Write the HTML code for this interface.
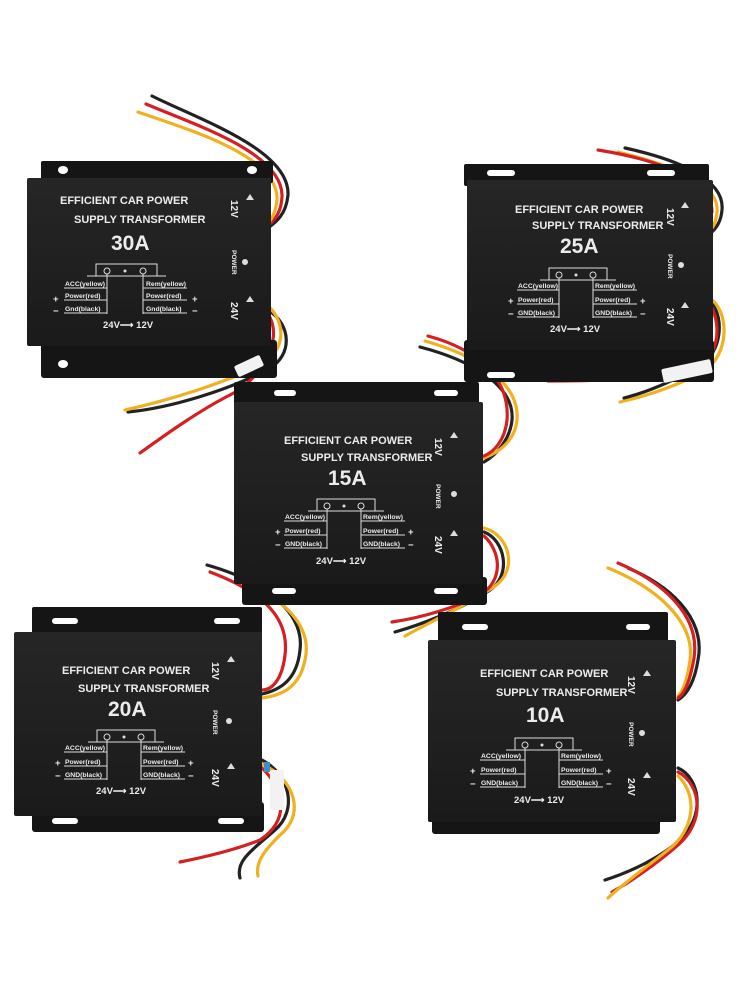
<!DOCTYPE html>
<html><head><meta charset="utf-8"><style>
html,body{margin:0;padding:0;background:#fff;}
svg{display:block;}
text{font-family:"Liberation Sans",sans-serif;fill:#ececec;}
.t1{font-size:11px;font-weight:bold;}
.big{font-size:21px;font-weight:bold;}
.sm{font-size:6.8px;font-weight:bold;}
.md{font-size:9.5px;font-weight:bold;}
.rt{font-size:10px;font-weight:bold;}
.pw{font-size:6.5px;font-weight:bold;}
.ln{stroke:#ddd;stroke-width:1;fill:none;}
.w{fill:none;stroke-width:3.2;stroke-linecap:round;}
</style></head><body>
<svg width="750" height="1000" viewBox="0 0 750 1000" xmlns="http://www.w3.org/2000/svg">
<defs>
<linearGradient id="pg" x1="0" y1="0" x2="0" y2="1"><stop offset="0" stop-color="#262627"/><stop offset="1" stop-color="#1a1a1b"/></linearGradient>
</defs>

<g>
<path class="w" stroke="#222" d="M152 96 C200 120,290 150,288 195 C286 215,276 222,268 228"/>
<path class="w" stroke="#d42020" d="M146 104 C195 125,284 153,282 197 C281 214,274 220,268 226"/>
<path class="w" stroke="#f0b020" d="M138 112 C190 130,278 156,277 199 C276 212,272 218,268 224"/>
</g>
<g>
<path class="w" stroke="#222" d="M268 310 C292 325,292 355,270 368 C230 390,170 408,128 412"/>
<path class="w" stroke="#f0b020" d="M268 306 C286 322,286 350,262 364 C225 383,170 400,125 410"/>
<path class="w" stroke="#d42020" d="M268 314 C285 340,260 380,230 395 C200 410,165 435,140 453"/>
</g>
<g>
<path class="w" stroke="#222" d="M625 148 C680 160,725 180,722 210 C721 222,716 228,712 232"/>
<path class="w" stroke="#f0b020" d="M618 152 C672 165,720 184,717 212 C716 222,713 228,710 230"/>
<path class="w" stroke="#d42020" d="M598 150 C660 160,712 180,712 212"/>
</g>
<g>
<path class="w" stroke="#f0b020" d="M712 300 C730 315,728 355,705 370 C680 385,650 395,620 402"/>
<path class="w" stroke="#222" d="M712 304 C724 318,722 352,700 366 C675 380,648 392,624 398"/>
<path class="w" stroke="#d42020" d="M712 308 C722 330,718 360,690 372 C650 380,580 381,548 381"/>
</g>
<g>
<path class="w" stroke="#222" d="M420 347 C470 360,515 385,512 420 C510 440,496 455,484 462"/>
<path class="w" stroke="#f0b020" d="M425 341 C475 355,520 382,517 420 C515 440,500 452,484 458"/>
<path class="w" stroke="#d42020" d="M428 336 C480 350,510 380,507 420 C505 440,494 452,484 456"/>
</g>
<g>
<path class="w" stroke="#222" d="M484 532 C505 540,512 575,490 590 C460 610,420 625,395 632"/>
<path class="w" stroke="#f0b020" d="M484 528 C510 535,518 570,495 586 C465 606,430 622,405 636"/>
<path class="w" stroke="#d42020" d="M484 536 C500 550,505 580,480 595 C455 608,420 618,392 622"/>
</g>
<g>
<path class="w" stroke="#222" d="M207 565 C260 580,305 610,300 650 C297 680,280 690,262 694"/>
<path class="w" stroke="#d42020" d="M210 572 C258 590,290 615,285 655 C282 680,272 690,262 690"/>
<path class="w" stroke="#f0b020" d="M240 582 C290 600,312 630,305 660 C300 685,285 695,262 698"/>
</g>
<g>
<path class="w" stroke="#222" d="M262 760 C290 775,298 810,275 830 C255 848,235 860,240 878"/>
<path class="w" stroke="#f0b020" d="M262 764 C296 780,305 815,280 835 C265 850,255 862,258 876"/>
<path class="w" stroke="#d42020" d="M262 768 C285 790,290 820,260 840 C235 850,200 858,180 862"/>
</g>
<g>
<path class="w" stroke="#222" d="M628 568 C680 590,705 625,698 660 C694 685,686 695,678 700"/>
<path class="w" stroke="#f0b020" d="M608 568 C662 590,695 625,690 660 C687 682,682 692,678 696"/>
<path class="w" stroke="#d42020" d="M618 563 C670 585,700 620,694 658 C690 682,684 694,678 698"/>
</g>
<g>
<path class="w" stroke="#222" d="M678 768 C700 778,706 815,680 840 C660 858,630 872,605 880"/>
<path class="w" stroke="#d42020" d="M678 772 C702 785,705 822,678 845 C655 865,630 882,612 892"/>
<path class="w" stroke="#f0b020" d="M678 776 C698 795,695 830,668 850 C648 866,625 882,608 898"/>
</g>

<!-- BOX 1 -->
<g transform="translate(27,178)">
<rect x="14" y="-17" width="232" height="22" rx="2" fill="#151515"/>
<ellipse cx="36" cy="-8" rx="5" ry="4" fill="#fff"/><ellipse cx="225" cy="-8" rx="5" ry="4" fill="#fff"/>
<rect x="14" y="162" width="236" height="38" rx="3" fill="#151515"/>
<ellipse cx="36" cy="186" rx="5" ry="4" fill="#fff"/><ellipse cx="224" cy="186" rx="5" ry="4" fill="#fff"/>
<rect x="0" y="0" width="244" height="168" rx="2" fill="url(#pg)"/>
<text class="t1" x="33" y="26">EFFICIENT CAR POWER</text>
<text class="t1" x="47" y="45">SUPPLY TRANSFORMER</text>
<text class="big" x="84" y="72">30A</text>
<path class="ln" d="M60 98 h9 v-12 h61 v12 h9 M60 98 h79"/>
<circle cx="80" cy="93" r="3" class="ln"/><circle cx="116" cy="93" r="3" class="ln"/><circle cx="98" cy="93" r="1.5" fill="#ddd"/>
<path class="ln" d="M80 96 v40 M116 96 v40 M37 110 h43 M37 122 h43 M37 135 h43 M116 110 h44 M116 122 h44 M116 135 h44"/>
<text class="sm" x="38" y="108">ACC(yellow)</text><text class="sm" x="38" y="120">Power(red)</text><text class="sm" x="38" y="133">Gnd(black)</text>
<text class="sm" x="119" y="108">Rem(yellow)</text><text class="sm" x="119" y="120">Power(red)</text><text class="sm" x="119" y="133">Gnd(black)</text>
<text class="md" x="26" y="124">+</text><text class="md" x="26" y="136">−</text><text class="md" x="165" y="124">+</text><text class="md" x="165" y="136">−</text>
<text class="md" x="76" y="150">24V⟶ 12V</text>
<text class="rt" transform="translate(204,22) rotate(90)">12V</text><path d="M219 22 l4 -6 l4 6z" fill="#ddd"/>
<text class="pw" transform="translate(205,72) rotate(90)">POWER</text><circle cx="218" cy="84" r="3" fill="#ddd"/>
<text class="rt" transform="translate(204,124) rotate(90)">24V</text><path d="M219 124 l4 -6 l4 6z" fill="#ddd"/>
</g>
<rect x="235" y="360" width="28" height="12" rx="2" fill="#f2f2f2" transform="rotate(-25 249 366)"/>

<!-- BOX 2 -->
<g transform="translate(467,180)">
<rect x="-3" y="-16" width="245" height="22" rx="2" fill="#151515"/>
<rect x="20" y="-10" width="28" height="6" rx="3" fill="#fff"/><rect x="180" y="-10" width="28" height="6" rx="3" fill="#fff"/>
<rect x="-3" y="160" width="250" height="42" rx="3" fill="#151515"/>
<rect x="20" y="192" width="28" height="6" rx="3" fill="#fff"/>
<rect x="0" y="0" width="246" height="170" rx="2" fill="url(#pg)"/>
<text class="t1" x="48" y="33">EFFICIENT  CAR POWER</text>
<text class="t1" x="65" y="49">SUPPLY TRANSFORMER</text>
<text class="big" x="93" y="73">25A</text>
<path class="ln" d="M73 100 h9 v-12 h58 v12 h9 M73 100 h76"/>
<circle cx="92" cy="95" r="3" class="ln"/><circle cx="126" cy="95" r="3" class="ln"/><circle cx="109" cy="95" r="1.5" fill="#ddd"/>
<path class="ln" d="M92 98 v40 M126 98 v40 M50 110 h42 M50 124 h42 M50 137 h42 M126 110 h44 M126 124 h44 M126 137 h44"/>
<text class="sm" x="51" y="108">ACC(yellow)</text><text class="sm" x="51" y="122">Power(red)</text><text class="sm" x="51" y="135">GND(black)</text>
<text class="sm" x="128" y="108">Rem(yellow)</text><text class="sm" x="128" y="122">Power(red)</text><text class="sm" x="128" y="135">GND(black)</text>
<text class="md" x="41" y="124">+</text><text class="md" x="41" y="137">−</text><text class="md" x="173" y="124">+</text><text class="md" x="173" y="137">−</text>
<text class="md" x="83" y="152">24V⟶ 12V</text>
<text class="rt" transform="translate(200,28) rotate(90)">12V</text><path d="M214 28 l4 -6 l4 6z" fill="#ddd"/>
<text class="pw" transform="translate(201,74) rotate(90)">POWER</text><circle cx="214" cy="85" r="3" fill="#ddd"/>
<text class="rt" transform="translate(200,128) rotate(90)">24V</text><path d="M214 128 l4 -6 l4 6z" fill="#ddd"/>
</g>
<rect x="662" y="364" width="50" height="14" rx="2" fill="#f2f2f2" transform="rotate(-12 687 371)"/>

<!-- BOX 3 -->
<g transform="translate(234,402)">
<rect x="0" y="-20" width="245" height="24" rx="2" fill="#151515"/>
<rect x="40" y="-12" width="22" height="6" rx="3" fill="#fff"/><rect x="200" y="-12" width="24" height="6" rx="3" fill="#fff"/>
<rect x="8" y="175" width="245" height="28" rx="3" fill="#151515"/>
<rect x="38" y="186" width="24" height="6" rx="3" fill="#fff"/><rect x="200" y="186" width="24" height="6" rx="3" fill="#fff"/>
<rect x="0" y="0" width="249" height="182" rx="2" fill="url(#pg)"/>
<text class="t1" x="50" y="42">EFFICIENT  CAR POWER</text>
<text class="t1" x="67" y="59">SUPPLY TRANSFORMER</text>
<text class="big" x="94" y="83">15A</text>
<path class="ln" d="M74 109 h9 v-12 h58 v12 h9 M74 109 h76"/>
<circle cx="93" cy="104" r="3" class="ln"/><circle cx="127" cy="104" r="3" class="ln"/><circle cx="110" cy="104" r="1.5" fill="#ddd"/>
<path class="ln" d="M93 107 v40 M127 107 v40 M50 119 h43 M50 133 h43 M50 146 h43 M127 119 h44 M127 133 h44 M127 146 h44"/>
<text class="sm" x="51" y="117">ACC(yellow)</text><text class="sm" x="51" y="131">Power(red)</text><text class="sm" x="51" y="144">GND(black)</text>
<text class="sm" x="129" y="117">Rem(yellow)</text><text class="sm" x="129" y="131">Power(red)</text><text class="sm" x="129" y="144">GND(black)</text>
<text class="md" x="41" y="133">+</text><text class="md" x="41" y="146">−</text><text class="md" x="174" y="133">+</text><text class="md" x="174" y="146">−</text>
<text class="md" x="82" y="162">24V⟶ 12V</text>
<text class="rt" transform="translate(201,36) rotate(90)">12V</text><path d="M216 36 l4 -6 l4 6z" fill="#ddd"/>
<text class="pw" transform="translate(202,82) rotate(90)">POWER</text><circle cx="220" cy="92" r="3" fill="#ddd"/>
<text class="rt" transform="translate(201,134) rotate(90)">24V</text><path d="M216 134 l4 -6 l4 6z" fill="#ddd"/>
</g>

<!-- BOX 4 -->
<g transform="translate(14,632)">
<rect x="18" y="-25" width="230" height="30" rx="2" fill="#151515"/>
<rect x="38" y="-14" width="26" height="6" rx="3" fill="#fff"/><rect x="200" y="-14" width="26" height="6" rx="3" fill="#fff"/>
<rect x="18" y="170" width="232" height="30" rx="3" fill="#151515"/>
<rect x="38" y="186" width="26" height="6" rx="3" fill="#fff"/><rect x="204" y="186" width="26" height="6" rx="3" fill="#fff"/>
<rect x="0" y="0" width="248" height="184" rx="2" fill="url(#pg)"/>
<text class="t1" x="48" y="42">EFFICIENT  CAR POWER</text>
<text class="t1" x="64" y="60">SUPPLY TRANSFORMER</text>
<text class="big" x="94" y="84">20A</text>
<path class="ln" d="M74 110 h9 v-12 h58 v12 h9 M74 110 h76"/>
<circle cx="93" cy="105" r="3" class="ln"/><circle cx="127" cy="105" r="3" class="ln"/><circle cx="110" cy="105" r="1.5" fill="#ddd"/>
<path class="ln" d="M93 108 v40 M127 108 v40 M50 120 h43 M50 134 h43 M50 147 h43 M127 120 h44 M127 134 h44 M127 147 h44"/>
<text class="sm" x="51" y="118">ACC(yellow)</text><text class="sm" x="51" y="132">Power(red)</text><text class="sm" x="51" y="145">GND(black)</text>
<text class="sm" x="129" y="118">Rem(yellow)</text><text class="sm" x="129" y="132">Power(red)</text><text class="sm" x="129" y="145">GND(black)</text>
<text class="md" x="41" y="134">+</text><text class="md" x="41" y="147">−</text><text class="md" x="174" y="134">+</text><text class="md" x="174" y="147">−</text>
<text class="md" x="82" y="162">24V⟶ 12V</text>
<text class="rt" transform="translate(198,30) rotate(90)">12V</text><path d="M213 30 l4 -6 l4 6z" fill="#ddd"/>
<text class="pw" transform="translate(199,78) rotate(90)">POWER</text><circle cx="215" cy="89" r="3" fill="#ddd"/>
<text class="rt" transform="translate(198,137) rotate(90)">24V</text><path d="M213 137 l4 -6 l4 6z" fill="#ddd"/>
</g>
<rect x="270" y="770" width="14" height="40" rx="2" fill="#f2f2f2"/>
<rect x="264" y="762" width="6" height="10" fill="#3a8fd0"/>

<!-- BOX 5 -->
<g transform="translate(428,640)">
<rect x="10" y="-28" width="230" height="32" rx="2" fill="#151515"/>
<rect x="34" y="-16" width="26" height="6" rx="3" fill="#fff"/><rect x="198" y="-16" width="24" height="6" rx="3" fill="#fff"/>
<rect x="4" y="172" width="228" height="22" rx="3" fill="#151515"/>
<rect x="0" y="0" width="248" height="182" rx="2" fill="url(#pg)"/>
<text class="t1" x="52" y="37">EFFICIENT  CAR POWER</text>
<text class="t1" x="68" y="56">SUPPLY TRANSFORMER</text>
<text class="big" x="98" y="82">10A</text>
<path class="ln" d="M78 110 h9 v-12 h58 v12 h9 M78 110 h76"/>
<circle cx="97" cy="105" r="3" class="ln"/><circle cx="131" cy="105" r="3" class="ln"/><circle cx="114" cy="105" r="1.5" fill="#ddd"/>
<path class="ln" d="M97 108 v40 M131 108 v40 M52 120 h45 M52 134 h45 M52 147 h45 M131 120 h44 M131 134 h44 M131 147 h44"/>
<text class="sm" x="53" y="118">ACC(yellow)</text><text class="sm" x="53" y="132">Power(red)</text><text class="sm" x="53" y="145">GND(black)</text>
<text class="sm" x="133" y="118">Rem(yellow)</text><text class="sm" x="133" y="132">Power(red)</text><text class="sm" x="133" y="145">GND(black)</text>
<text class="md" x="42" y="134">+</text><text class="md" x="42" y="147">−</text><text class="md" x="178" y="134">+</text><text class="md" x="178" y="147">−</text>
<text class="md" x="86" y="163">24V⟶ 12V</text>
<text class="rt" transform="translate(200,36) rotate(90)">12V</text><path d="M215 36 l4 -6 l4 6z" fill="#ddd"/>
<text class="pw" transform="translate(201,82) rotate(90)">POWER</text><circle cx="214" cy="93" r="3" fill="#ddd"/>
<text class="rt" transform="translate(200,138) rotate(90)">24V</text><path d="M215 138 l4 -6 l4 6z" fill="#ddd"/>
</g>
</svg>
</body></html>
